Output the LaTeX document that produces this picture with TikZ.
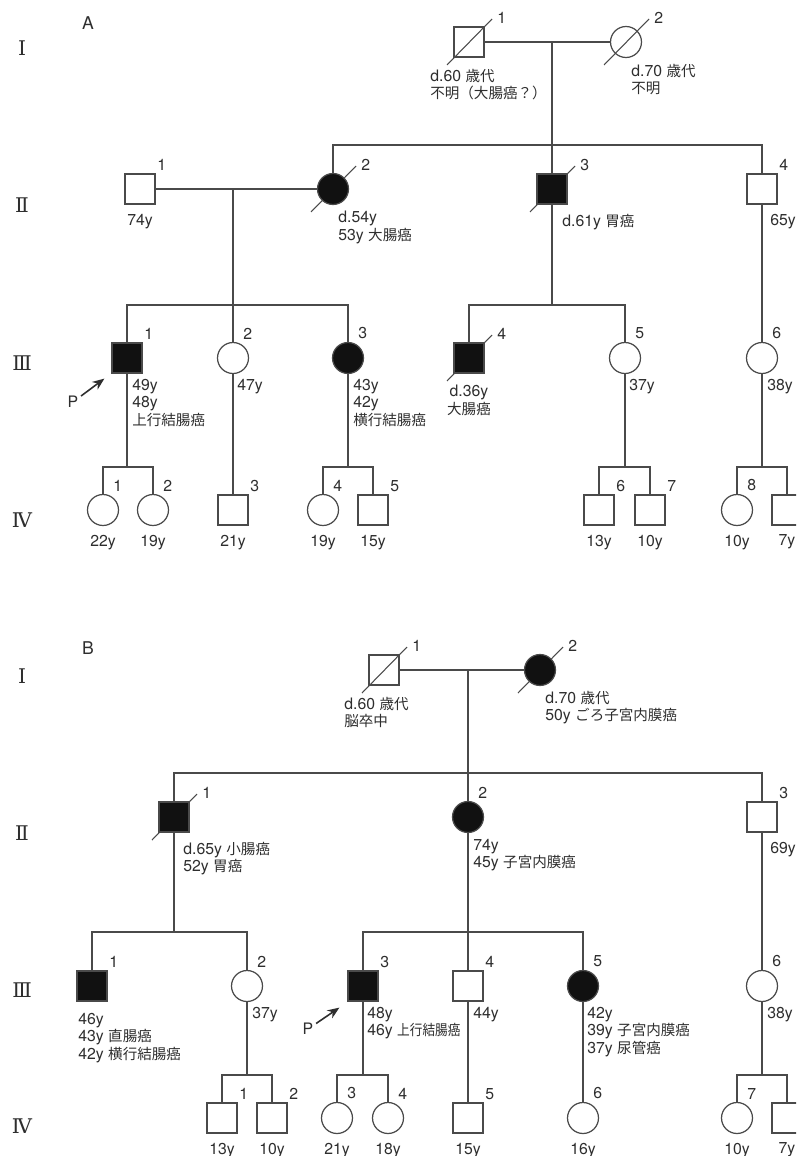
\documentclass[tikz,border=0pt]{standalone}
\usepackage{fontspec}
\setmainfont{TeX Gyre Heros}
\newfontfamily\jpfont{Noto Sans CJK JP}[Scale=0.92]
\newfontfamily\jpnarrow{Noto Sans CJK JP}[Scale=0.92,FakeStretch=0.87]
\newfontfamily\genfont{DejaVu Serif}
\usepackage{xcolor}
\definecolor{cLine}{HTML}{4A4A4A}
\definecolor{cText}{HTML}{2E2E2E}
\definecolor{cFill}{HTML}{111111}
\usepackage{tikz}
\usetikzlibrary{arrows.meta,backgrounds}
\newcommand{\jp}[1]{{\jpfont #1}}
\newcommand{\jpn}[1]{{\jpnarrow #1}}
\tikzset{
  person-m/.style={draw=cLine,line width=0.7pt,minimum size=6mm,inner sep=0pt},
  person-f/.style={person-m,circle,minimum size=6.2mm},
  person-aff/.style={fill=cFill},
  node-txt/.style={inner sep=0pt,text=cText,font=\fontsize{9}{9.8}\selectfont},
  num-m/.style={label={[node-txt,anchor=south west,xshift=3.4mm,yshift=0.5mm]north:#1}},
  num-f/.style={label={[node-txt,anchor=south west,xshift=2mm,yshift=0.5mm]north:#1}},
  num-d/.style={label={[node-txt,anchor=south west,xshift=5.6mm,yshift=0.5mm]north:#1}},
  age/.style={label={[node-txt,anchor=north,yshift=-1.8mm]south:#1}},
  info/.style={node-txt,anchor=north west,align=left},
  gen/.style={inner sep=0pt,text=cText,font=\genfont\fontsize{11.5}{13}\selectfont},
  link/.style={draw=cLine,line width=0.6pt},
  slash/.style={draw=cLine,line width=0.6pt},
  arrow-p/.style={-{Stealth[length=2.4mm,width=1.9mm]},line width=0.9pt,draw=cText},
}

\begin{document}
\begin{tikzpicture}[x=0.02cm,y=-0.02cm]
  \useasboundingbox (0,0) rectangle (796,1156);
  \clip (0,0) rectangle (796,1156);

  % ---------------- A ----------------
  \node[node-txt,font=\fontsize{10}{11}\selectfont] (a-lbl) at (88,23) {A};
  \node[gen] (a-g1) at (22,48) {Ⅰ};
  \node[gen] (a-g2) at (22,205) {Ⅱ};
  \node[gen] (a-g3) at (22,363) {Ⅲ};
  \node[gen] (a-g4) at (22,520) {Ⅳ};

  \node[person-m,num-d=1] (a-I1) at (469,42) {};
  \node[person-f,num-d=2] (a-I2) at (626,42) {};
  \node[person-m,num-m=1,age=74y] (a-II1) at (140,189) {};
  \node[person-f,person-aff,num-d=2] (a-II2) at (333,189) {};
  \node[person-m,person-aff,num-d=3] (a-II3) at (552,189) {};
  \node[person-m,num-m=4] (a-II4) at (762,189) {};
  \node[person-m,person-aff,num-m=1] (a-III1) at (127,358) {};
  \node[person-f,num-f=2] (a-III2) at (233,358) {};
  \node[person-f,person-aff,num-f=3] (a-III3) at (348,358) {};
  \node[person-m,person-aff,num-d=4] (a-III4) at (469,358) {};
  \node[person-f,num-f=5] (a-III5) at (625,358) {};
  \node[person-f,num-f=6] (a-III6) at (762,358) {};
  \node[person-f,num-f=1,age=22y] (a-IV1) at (103,510) {};
  \node[person-f,num-f=2,age=19y] (a-IV2) at (153,510) {};
  \node[person-m,num-m=3,age=21y] (a-IV3) at (233,510) {};
  \node[person-f,num-f=4,age=19y] (a-IV4) at (323,510) {};
  \node[person-m,num-m=5,age=15y] (a-IV5) at (373,510) {};
  \node[person-m,num-m=6,age=13y] (a-IV6) at (599,510) {};
  \node[person-m,num-m=7,age=10y] (a-IV7) at (650,510) {};
  \node[person-f,num-f=8,age=10y] (a-IV8) at (737,510) {};
  \node[person-m,age=7y] (a-IV9) at (787,510) {};

  \node[info] (a-I1-t) at ([shift={(-39,27)}]a-I1.center) {d.60 \jp{歳代}\\\jp{不明（大腸癌？）}};
  \node[info] (a-I2-t) at ([shift={(5,22)}]a-I2.center) {d.70 \jp{歳代}\\\jp{不明}};
  \node[info] (a-II2-t) at ([shift={(5,22)}]a-II2.center) {d.54y\\53y \jp{大腸癌}};
  \node[info] (a-II3-t) at ([shift={(10,25)}]a-II3.center) {d.61y \jp{胃癌}};
  \node[info] (a-II4-t) at ([shift={(8,25)}]a-II4.center) {65y};
  \node[info] (a-III1-t) at ([shift={(5,21)}]a-III1.center) {49y\\48y\\\jp{上行結腸癌}};
  \node[info] (a-III2-t) at ([shift={(4,21)}]a-III2.center) {47y};
  \node[info] (a-III3-t) at ([shift={(5,21)}]a-III3.center) {43y\\42y\\\jp{横行結腸癌}};
  \node[info,anchor=north,align=center] (a-III4-t) at ([shift={(0,27)}]a-III4.center) {d.36y\\\jp{大腸癌}};
  \node[info] (a-III5-t) at ([shift={(4,21)}]a-III5.center) {37y};
  \node[info] (a-III6-t) at ([shift={(5,21)}]a-III6.center) {38y};

  \coordinate (a-m1) at (552,42);
  \coordinate (a-s1) at (552,145);
  \coordinate (a-m2) at (233,189);
  \coordinate (a-s2) at (233,305);
  \coordinate (a-s3) at (552,305);
  \coordinate (a-s4) at (127,467);
  \coordinate (a-s5) at (348,467);
  \coordinate (a-s6) at (625,467);
  \coordinate (a-s7) at (762,467);

  \draw[link] (a-I1) -- (a-I2);
  \draw[link] (a-m1) -- (a-II3);
  \draw[link] (a-II2) |- (a-s1) -| (a-II4);
  \draw[link] (a-II1) -- (a-II2);
  \draw[link] (a-m2) -- (a-III2);
  \draw[link] (a-III1) |- (a-s2) -| (a-III3);
  \draw[link] (a-II3) -- (a-s3);
  \draw[link] (a-III4) |- (a-s3) -| (a-III5);
  \draw[link] (a-II4) -- (a-III6);
  \draw[link] (a-III1) -- (a-s4);
  \draw[link] (a-IV1) |- (a-s4) -| (a-IV2);
  \draw[link] (a-III2) -- (a-IV3);
  \draw[link] (a-III3) -- (a-s5);
  \draw[link] (a-IV4) |- (a-s5) -| (a-IV5);
  \draw[link] (a-III5) -- (a-s6);
  \draw[link] (a-IV6) |- (a-s6) -| (a-IV7);
  \draw[link] (a-III6) -- (a-s7);
  \draw[link] (a-IV8) |- (a-s7) -| (a-IV9);

  \node[node-txt] (a-p) at (73,402) {P};
  \draw[arrow-p,shorten <=0.6mm] (a-p) -- ([shift={(-7,5)}]a-III1.south west);

  % ---------------- B ----------------
  \node[node-txt,font=\fontsize{10}{11}\selectfont] (b-lbl) at (88,648) {B};
  \node[gen] (b-g1) at (22,676) {Ⅰ};
  \node[gen] (b-g2) at (22,833) {Ⅱ};
  \node[gen] (b-g3) at (22,990) {Ⅲ};
  \node[gen] (b-g4) at (22,1126) {Ⅳ};

  \node[person-m,num-d=1] (b-I1) at (384,670) {};
  \node[person-f,person-aff,num-d=2] (b-I2) at (540,670) {};
  \node[person-m,person-aff,num-d=1] (b-II1) at (174,817) {};
  \node[person-f,person-aff,num-f=2] (b-II2) at (468,817) {};
  \node[person-m,num-m=3] (b-II3) at (762,817) {};
  \node[person-m,person-aff,num-m=1] (b-III1) at (92,986) {};
  \node[person-f,num-f=2] (b-III2) at (247,986) {};
  \node[person-m,person-aff,num-m=3] (b-III3) at (363,986) {};
  \node[person-m,num-m=4] (b-III4) at (468,986) {};
  \node[person-f,person-aff,num-f=5] (b-III5) at (583,986) {};
  \node[person-f,num-f=6] (b-III6) at (762,986) {};
  \node[person-m,num-m=1,age=13y] (b-IV1) at (222,1118) {};
  \node[person-m,num-m=2,age=10y] (b-IV2) at (272,1118) {};
  \node[person-f,num-f=3,age=21y] (b-IV3) at (337,1118) {};
  \node[person-f,num-f=4,age=18y] (b-IV4) at (388,1118) {};
  \node[person-m,num-m=5,age=15y] (b-IV5) at (468,1118) {};
  \node[person-f,num-f=6,age=16y] (b-IV6) at (583,1118) {};
  \node[person-f,num-f=7,age=10y] (b-IV7) at (737,1118) {};
  \node[person-m,age=7y] (b-IV8) at (787,1118) {};

  \node[info] (b-I1-t) at ([shift={(-40,27)}]b-I1.center) {d.60 \jp{歳代}\\\jp{脳卒中}};
  \node[info] (b-I2-t) at ([shift={(5,21)}]b-I2.center) {d.70 \jp{歳代}\\50y \jp{ごろ子宮内膜癌}};
  \node[info] (b-II1-t) at ([shift={(9,25)}]b-II1.center) {d.65y \jp{小腸癌}\\52y \jp{胃癌}};
  \node[info] (b-II2-t) at ([shift={(5,22)}]b-II2.center) {74y\\45y \jp{子宮内膜癌}};
  \node[info] (b-II3-t) at ([shift={(8,25)}]b-II3.center) {69y};
  \node[info] (b-III1-t) at ([shift={(-14,27)}]b-III1.center) {46y\\43y \jp{直腸癌}\\42y \jp{横行結腸癌}};
  \node[info] (b-III2-t) at ([shift={(5,21)}]b-III2.center) {37y};
  \node[info] (b-III3-t) at ([shift={(4,21)}]b-III3.center) {48y\\46y \jpn{上行結腸癌}};
  \node[info] (b-III4-t) at ([shift={(5,21)}]b-III4.center) {44y};
  \node[info] (b-III5-t) at ([shift={(4,21)}]b-III5.center) {42y\\39y \jp{子宮内膜癌}\\37y \jp{尿管癌}};
  \node[info] (b-III6-t) at ([shift={(5,21)}]b-III6.center) {38y};

  \coordinate (b-m1) at (468,670);
  \coordinate (b-s1) at (468,773);
  \coordinate (b-s2) at (174,932);
  \coordinate (b-s3) at (468,932);
  \coordinate (b-s4) at (247,1075);
  \coordinate (b-s5) at (363,1075);
  \coordinate (b-s6) at (762,1075);

  \draw[link] (b-I1) -- (b-I2);
  \draw[link] (b-m1) -- (b-II2);
  \draw[link] (b-II1) |- (b-s1) -| (b-II3);
  \draw[link] (b-II1) -- (b-s2);
  \draw[link] (b-III1) |- (b-s2) -| (b-III2);
  \draw[link] (b-II2) -- (b-III4);
  \draw[link] (b-III3) |- (b-s3) -| (b-III5);
  \draw[link] (b-II3) -- (b-III6);
  \draw[link] (b-III2) -- (b-s4);
  \draw[link] (b-IV1) |- (b-s4) -| (b-IV2);
  \draw[link] (b-III3) -- (b-s5);
  \draw[link] (b-IV3) |- (b-s5) -| (b-IV4);
  \draw[link] (b-III4) -- (b-IV5);
  \draw[link] (b-III5) -- (b-IV6);
  \draw[link] (b-III6) -- (b-s6);
  \draw[link] (b-IV7) |- (b-s6) -| (b-IV8);

  \node[node-txt] (b-p) at (308,1029) {P};
  \draw[arrow-p,shorten <=0.6mm] (b-p) -- ([shift={(-8,6)}]b-III3.south west);

  % deceased: slash behind the symbols
  \begin{scope}[on background layer]
    \fill[white] (0,0) rectangle (796,1156);
    \foreach \p in {a-I1,a-I2,a-II2,a-II3,a-III4,b-I1,b-I2,b-II1}
      \draw[slash] ([shift={(-22,23)}]\p.center) -- ([shift={(23,-23)}]\p.center);
  \end{scope}
\end{tikzpicture}
\end{document}
